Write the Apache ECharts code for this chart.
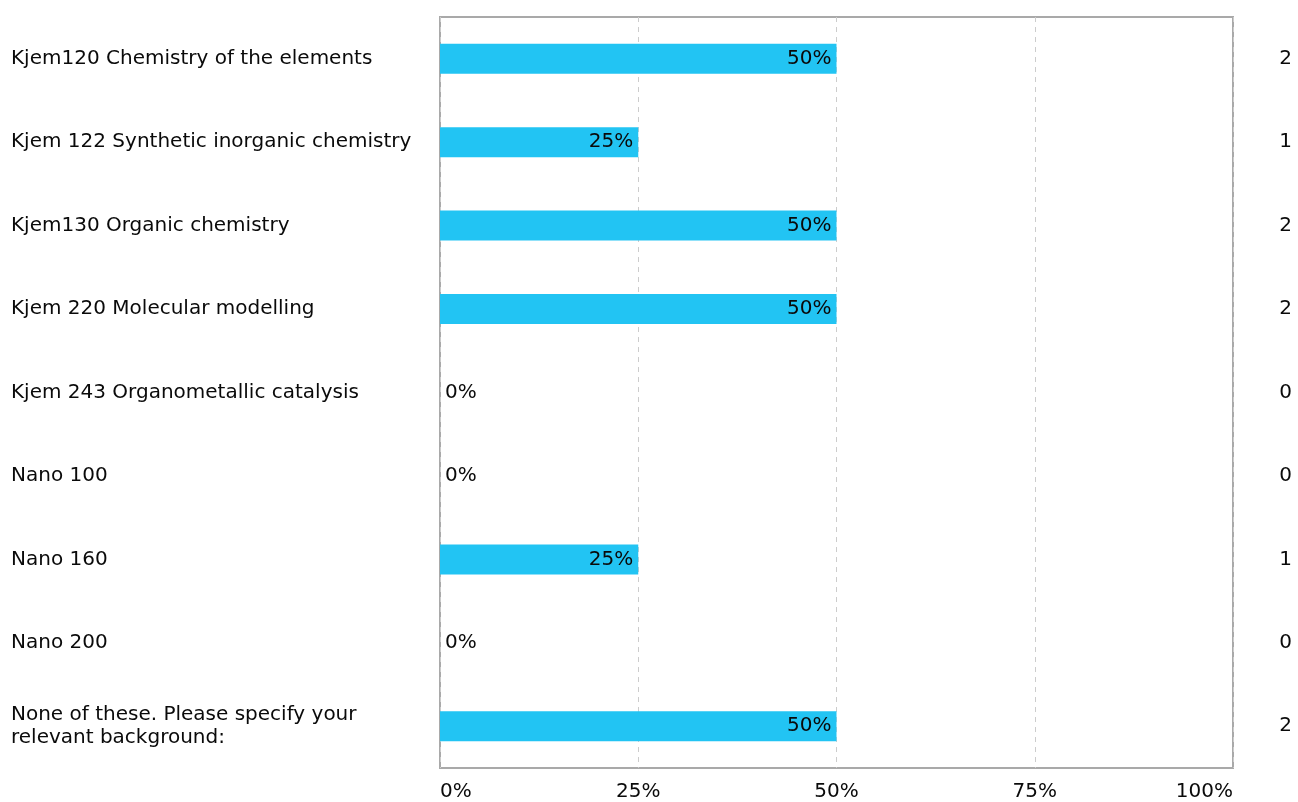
<!DOCTYPE html>
<html>
<head>
<meta charset="utf-8">
<script src="https://cdn.jsdelivr.net/npm/echarts@6/dist/echarts.min.js"></script>
<style>
  html, body { margin: 0; padding: 0; background: #ffffff; }
  #chart { width: 1298px; height: 802px; }
</style>
</head>
<body>
<div id="chart"></div>
<script>
// Course options, share of respondents (%) and raw answer counts
const categories = [
  'Kjem120 Chemistry of the elements',
  'Kjem 122 Synthetic inorganic chemistry',
  'Kjem130 Organic chemistry',
  'Kjem 220 Molecular modelling',
  'Kjem 243 Organometallic catalysis',
  'Nano 100',
  'Nano 160',
  'Nano 200',
  'None of these. Please specify your relevant background:'
];
const percents = [50, 25, 50, 50, 0, 0, 25, 0, 50];
const counts = [2, 1, 2, 2, 0, 0, 1, 0, 2];
const xTicks = [0, 25, 50, 75, 100];

const FONT = 'DejaVu Sans';
const FS = 20;
const INK = '#0a0a0a';

const chart = echarts.init(document.getElementById('chart'), null, { renderer: 'canvas' });

// Zero-width bars carry their label just outside the bar end
const barData = percents.map(v => v === 0
  ? { value: v, label: { position: 'right', distance: 5 } }
  : { value: v });

chart.setOption({
  animation: false,
  textStyle: { fontFamily: FONT },
  grid: {
    left: 440, top: 17, right: 65, bottom: 34,
    show: true, borderColor: '#a9a9a9', borderWidth: 2, backgroundColor: '#ffffff'
  },
  xAxis: {
    type: 'value', min: 0, max: 100, interval: 25,
    axisLine: { show: false }, axisTick: { show: false },
    axisLabel: {
      formatter: v => xTicks.includes(v) ? v + '%' : '',
      color: INK, fontFamily: FONT, fontSize: FS, margin: 14,
      alignMinLabel: 'left', alignMaxLabel: 'right'
    },
    splitLine: { show: true, lineStyle: { color: '#cccccc', type: [5, 5], width: 1 } }
  },
  yAxis: [
    {
      type: 'category', inverse: true, data: categories,
      axisLine: { show: false }, axisTick: { show: false },
      axisLabel: {
        align: 'left', margin: 429, color: INK, fontFamily: FONT, fontSize: FS,
        width: 415, overflow: 'break', lineHeight: 23, padding: [2, 0, 0, 0]
      }
    },
    {
      type: 'category', inverse: true, data: counts, position: 'right',
      axisLine: { show: false }, axisTick: { show: false },
      axisLabel: { align: 'right', margin: 59, color: INK, fontFamily: FONT, fontSize: FS, padding: [2, 0, 0, 0] }
    }
  ],
  series: [{
    type: 'bar', data: barData, barWidth: 30,
    itemStyle: { color: '#22c4f3' },
    label: {
      show: true, position: 'insideRight', distance: 5, formatter: '{c}%',
      color: INK, fontFamily: FONT, fontSize: FS, padding: [2, 0, 0, 0]
    }
  }]
});
</script>
</body>
</html>
